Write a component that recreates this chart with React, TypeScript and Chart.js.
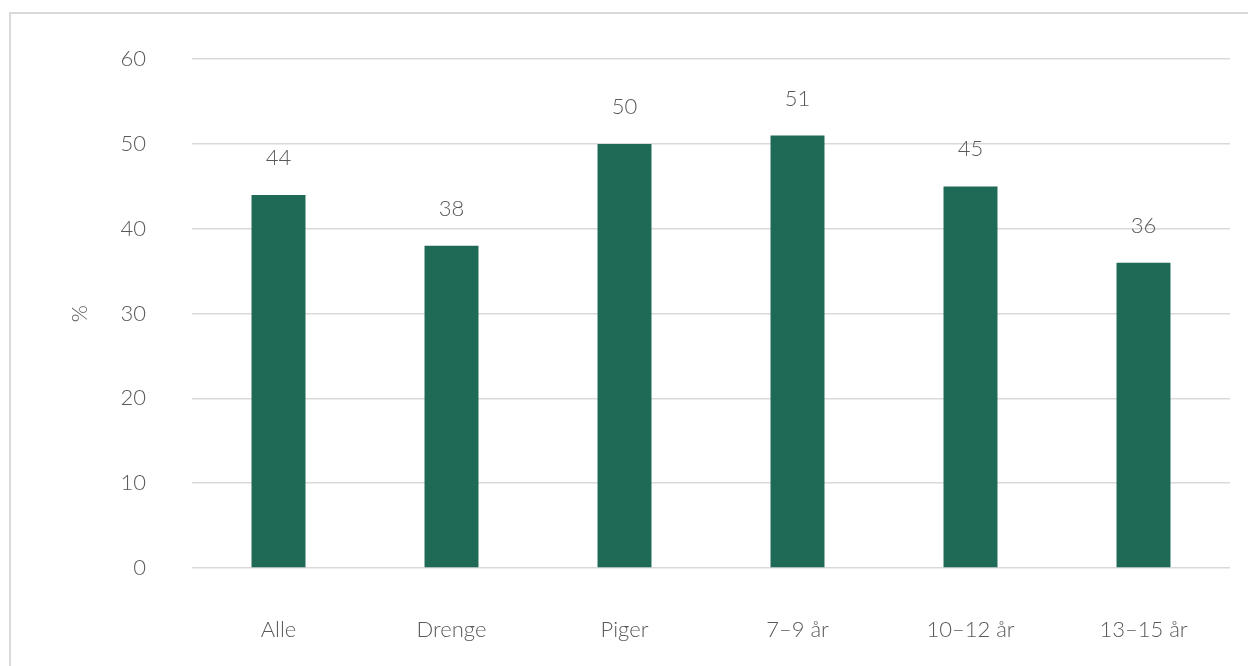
import React, { useEffect, useRef } from "react";
import { Chart, registerables } from "chart.js";

Chart.register(...registerables);

const categories = ["Alle", "Drenge", "Piger", "7–9 år", "10–12 år", "13–15 år"];
const values = [44, 38, 50, 51, 45, 36];
const yTicks = [0, 10, 20, 30, 40, 50, 60];

const BAR_COLOR = "#1f6a56";
const TEXT_COLOR = "#595959";
const GRID_COLOR = "#d9d9d9";
const FONT_FAMILY = "Lato, 'Open Sans', sans-serif";
const FONT_SIZE = 22;

const valueLabels = {
  id: "valueLabels",
  afterDatasetsDraw(chart: any) {
    const { ctx } = chart;
    const meta = chart.getDatasetMeta(0);
    ctx.save();
    ctx.font = `300 ${FONT_SIZE}px ${FONT_FAMILY}`;
    ctx.fillStyle = TEXT_COLOR;
    ctx.textAlign = "center";
    ctx.textBaseline = "middle";
    meta.data.forEach((bar: any, i: number) => {
      ctx.fillText(String(values[i]), bar.x, bar.y - 37);
    });
    ctx.restore();
  },
};

export default function App() {
  const canvasRef = useRef<HTMLCanvasElement | null>(null);

  useEffect(() => {
    const canvas = canvasRef.current;
    if (!canvas) return;
    const font = { family: FONT_FAMILY, size: FONT_SIZE, weight: "300" as any };
    const chart = new Chart(canvas, {
      type: "bar",
      data: {
        labels: categories,
        datasets: [
          {
            data: values,
            backgroundColor: BAR_COLOR,
            barPercentage: 0.312,
            categoryPercentage: 1,
          },
        ],
      },
      options: {
        animation: false,
        responsive: false,
        maintainAspectRatio: false,
        layout: { padding: { left: 60, right: 18, top: 56, bottom: 0 } },
        plugins: {
          legend: { display: false },
          tooltip: { enabled: false },
        },
        scales: {
          x: {
            grid: { display: false, drawTicks: false },
            border: { display: false },
            ticks: {
              color: TEXT_COLOR,
              font,
              padding: 49,
              maxRotation: 0,
            },
            afterFit(scale: any) {
              scale.height = 98;
            },
          },
          y: {
            min: 0,
            max: 60,
            afterBuildTicks(scale: any) {
              scale.ticks = yTicks.map((v) => ({ value: v }));
            },
            grid: { color: GRID_COLOR, lineWidth: 1.5, drawTicks: false },
            border: { display: false },
            ticks: {
              color: TEXT_COLOR,
              font,
              padding: 46,
            },
            title: {
              display: true,
              text: "%",
              color: TEXT_COLOR,
              font,
              padding: { top: 7, bottom: 0 },
            },
            afterFit(scale: any) {
              scale.width = 132;
            },
          },
        },
      },
      plugins: [valueLabels],
    });
    return () => chart.destroy();
  }, []);

  return (
    <div style={{ position: "fixed", left: 0, top: 0, width: 1248, height: 666, overflow: "hidden", background: "#fff" }}>
      <div
        style={{
          position: "absolute",
          left: 9,
          top: 12,
          width: 1300,
          height: 700,
          border: `2px solid ${GRID_COLOR}`,
          boxSizing: "border-box",
        }}
      />
      <canvas
        ref={canvasRef}
        width={1248}
        height={666}
        style={{ position: "absolute", left: 0, top: 0, width: 1248, height: 666 }}
      />
    </div>
  );
}
